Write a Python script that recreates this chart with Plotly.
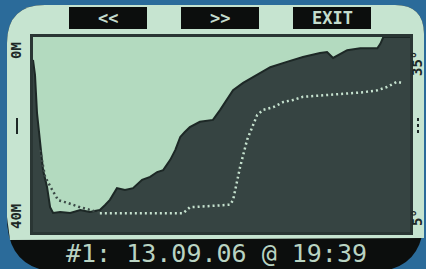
import plotly.graph_objects as go

W, H = 426, 269

# Dive profile: time (min) and depth (m)
dive_time = [0, 0.4, 0.8, 1.4, 2.0, 2.8, 3.4, 4.0, 5.4, 7.4, 9.4, 11.3, 13.3, 14.3, 15.3, 16.7,
             18.3, 19.9, 21.7, 23.3, 24.7, 25.9, 27.3, 28.3, 29.3, 30.2, 31.2, 33.2, 35.8, 37.2,
             38.6, 39.8, 41.8, 43.8, 45.6, 47.2, 50.5, 53.7, 57.1, 58.5, 59.7, 61.1, 62.5, 65.1,
             68.5, 69.1, 69.7, 75]
depth = [4.7, 7.8, 15.6, 21.1, 27.3, 30.8, 34.9, 36.1, 35.9, 36.1, 35.5, 35.9, 35.5, 34.5, 33.4,
         31.0, 31.4, 31.0, 29.3, 28.7, 27.7, 27.3, 25.2, 23.2, 20.5, 19.5, 18.5, 17.4, 17.0, 15.0,
         12.9, 10.9, 9.4, 8.2, 7.2, 6.2, 5.1, 4.1, 3.3, 3.1, 4.3, 3.5, 2.7, 2.3, 2.3, 1.4, 0, 0]

# Water temperature: time (min) and temperature (°C)
temp_time = [1.4, 2.4, 3.8, 5.0, 6.8, 9.4, 12.3, 13.3, 29.9, 31.2, 35.2, 39.2, 39.8, 40.6, 41.2,
             41.8, 42.6, 43.6, 44.6, 45.8, 47.8, 49.8, 51.7, 53.7, 58.5, 63.7, 65.7, 68.5, 70.4,
             72.4, 73.6]
temp = [17.6, 13.5, 11.5, 9.9, 9.5, 8.8, 8.2, 7.9, 7.9, 8.8, 9.0, 9.2, 9.9, 13.0, 15.0, 16.8,
        19.2, 21.1, 23.0, 23.8, 24.2, 25.0, 25.3, 25.8, 26.1, 26.4, 26.5, 26.8, 27.3, 28.1, 27.9]

time_range = [0, 75]
depth_range = [40, 0]
temp_range = [5, 35]
depth_labels = ["0M", "40M"]
temp_labels = ["35°", "5°"]
buttons = ["<<", ">>", "EXIT"]
title = "#1: 13.09.06 @ 19:39"

BLUE = "#2b6b9a"
PANEL = "#c6e4d0"
MINT = "#b3dabf"
DARK = "#364442"
EDGE = "#1d2826"
BLACK = "#0c0e0d"
LIGHTTXT = "#c4dccd"


def fx(x):
    return x / W


def fy(y):
    return 1 - y / H


def path(cmds):
    out = []
    for c in cmds:
        if isinstance(c, str):
            out.append(c)
        else:
            out.append(f"{fx(c[0]):.5f},{fy(c[1]):.5f}")
    return " ".join(out)


fig = go.Figure()

# baseline at bottom of depth scale
fig.add_trace(go.Scatter(x=time_range, y=[depth_range[0]] * 2, mode="lines",
                         line=dict(width=0, color=DARK), hoverinfo="skip", showlegend=False))
fig.add_trace(go.Scatter(x=dive_time, y=depth, mode="lines", fill="tonexty",
                         fillcolor=DARK, line=dict(color=EDGE, width=2),
                         showlegend=False))

split = 7
fig.add_trace(go.Scatter(x=temp_time[:split + 1], y=temp[:split + 1], mode="lines",
                         line=dict(color="#3c4a47", width=2.5, dash="2px,3px"),
                         yaxis="y2", showlegend=False))
fig.add_trace(go.Scatter(x=temp_time[split:], y=temp[split:], mode="lines",
                         line=dict(color="#c6e2cf", width=2.5, dash="2px,3px"),
                         yaxis="y2", showlegend=False))

shapes = [
    # device body (black)
    dict(type="path", xref="paper", yref="paper", layer="below", line=dict(width=0),
         fillcolor=BLACK,
         path=path(["M", (7, 43), "Q", (7, 5), (45, 5), "L", (395, 5), "Q", (424, 5), (424, 34),
                    "L", (424, 217), "Q", (424, 272), (369, 272), "L", (62, 272),
                    "Q", (7, 272), (7, 217), "Z"])),
    # light panel
    dict(type="path", xref="paper", yref="paper", layer="below", line=dict(width=0),
         fillcolor=PANEL,
         path=path(["M", (7, 43), "Q", (7, 5), (45, 5), "L", (395, 5), "Q", (424, 5), (424, 34),
                    "L", (424, 238), "L", (10, 240), "L", (7, 217), "Z"])),
    # plot area
    dict(type="rect", xref="paper", yref="paper", layer="below", line=dict(width=0),
         fillcolor=MINT, x0=fx(33), x1=fx(410), y0=fy(232), y1=fy(37)),
    # plot frame
    dict(type="rect", xref="paper", yref="paper", layer="above",
         line=dict(width=3, color="#2a3634"),
         x0=fx(31.5), x1=fx(411.5), y0=fy(233.5), y1=fy(35.5)),
    # mid ticks
    dict(type="line", xref="paper", yref="paper", layer="above",
         line=dict(width=2, color=EDGE), x0=fx(17), x1=fx(17), y0=fy(118), y1=fy(134)),
    dict(type="line", xref="paper", yref="paper", layer="above",
         line=dict(width=2, color=EDGE, dash="dot"), x0=fx(418), x1=fx(418), y0=fy(118), y1=fy(134)),
]

btn_x = [(69, 147), (181, 259), (293, 371)]
annotations = []
for (x0, x1), lab in zip(btn_x, buttons):
    shapes.append(dict(type="rect", xref="paper", yref="paper", layer="below",
                       line=dict(width=0), fillcolor=BLACK,
                       x0=fx(x0), x1=fx(x1), y0=fy(29), y1=fy(7)))
    annotations.append(dict(x=fx((x0 + x1) / 2), y=fy(18), xref="paper", yref="paper",
                            text=f"<b>{lab}</b>", showarrow=False,
                            font=dict(family="DejaVu Sans Mono", size=17, color=LIGHTTXT),
                            xanchor="center", yanchor="middle"))

for lab, yy in zip(depth_labels, [51, 217]):
    annotations.append(dict(x=fx(16), y=fy(yy), xref="paper", yref="paper",
                            text=f"<b>{lab}</b>", showarrow=False, textangle=-90,
                            font=dict(family="DejaVu Sans Mono", size=14, color=EDGE),
                            xanchor="center", yanchor="middle"))
for lab, yy in zip(temp_labels, [64, 218]):
    annotations.append(dict(x=fx(417), y=fy(yy), xref="paper", yref="paper",
                            text=f"<b>{lab}</b>", showarrow=False, textangle=-90,
                            font=dict(family="DejaVu Sans Mono", size=14, color=EDGE),
                            xanchor="center", yanchor="middle"))

annotations.append(dict(x=fx(216), y=fy(253), xref="paper", yref="paper",
                        text=title, showarrow=False,
                        font=dict(family="DejaVu Sans Mono", size=25, color="#b9d3c2"),
                        xanchor="center", yanchor="middle"))

fig.update_layout(
    width=W, height=H,
    margin=dict(l=0, r=0, t=0, b=0),
    paper_bgcolor=BLUE,
    plot_bgcolor="rgba(0,0,0,0)",
    xaxis=dict(domain=[fx(33), fx(410)], range=time_range, visible=False, fixedrange=True),
    yaxis=dict(domain=[fy(232), fy(37)], range=depth_range, visible=False, fixedrange=True),
    yaxis2=dict(overlaying="y", range=temp_range, visible=False, fixedrange=True),
    shapes=shapes,
    annotations=annotations,
    showlegend=False,
)

fig.write_html("out.html", config=dict(displayModeBar=False),
               post_script="document.body.style.margin='0';document.body.style.background='" + BLUE + "';")
